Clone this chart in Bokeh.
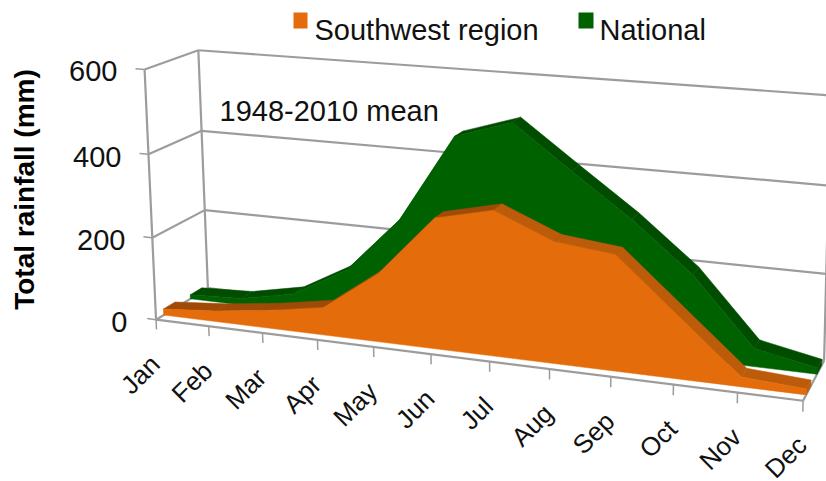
import numpy as np
from bokeh.plotting import figure
from bokeh.models import Range1d
from bokeh.core.properties import value
from bokeh.embed import file_html
from bokeh.resources import INLINE

months = ["Jan", "Feb", "Mar", "Apr", "May", "Jun", "Jul", "Aug", "Sep", "Oct", "Nov", "Dec"]
southwest = [15, 26, 43, 66, 162, 305, 336, 279, 264, 143, 22, 13]
national = [10, 16, 43, 116, 253, 462, 505, 405, 307, 195, 42, 14]
y_ticks = [0, 200, 400, 600]

FONT = value("Liberation Sans")
GRID = "#9c9c9c"

# Camera: fitted from the box corners of the 3-D chart (month, depth, mm) -> page pixel
camera_fit = [
    ((0, 0, 0), (156, 319)), ((0, 0, 200), (152, 237)), ((0, 0, 400), (147, 154)), ((0, 0, 600), (144, 70)),
    ((3, 0, 0), (317, 339)), ((6, 0, 0), (489, 361)), ((9, 0, 0), (673, 384)), ((11, 0, 0), (803, 400)),
    ((0, 1, 0), (207, 288)), ((0, 1, 200), (204, 210)), ((0, 1, 400), (202, 130)), ((0, 1, 600), (198, 49)),
    ((11, 1, 0), (823, 361)), ((11, 1, 200), (826, 273)), ((11, 1, 400), (828, 185)), ((11, 1, 600), (830, 95)),
]
A, b = [], []
for (t, d, v), (x, y) in camera_fit:
    A.append([t, d, v, 1, 0, 0, 0, 0, -x * t, -x * d, -x * v])
    A.append([0, 0, 0, 0, t, d, v, 1, -y * t, -y * d, -y * v])
    b += [x, y]
h = np.linalg.lstsq(np.array(A, float), np.array(b, float), rcond=None)[0]


def proj(t, d, v):
    w = h[8] * t + h[9] * d + h[10] * v + 1
    return ((h[0] * t + h[1] * d + h[2] * v + h[3]) / w,
            (h[4] * t + h[5] * d + h[6] * v + h[7]) / w)


p = figure(x_range=Range1d(0, 826), y_range=Range1d(481, 0), width=826, height=481,
           toolbar_location=None, output_backend="svg", min_border=0,
           x_axis_type=None, y_axis_type=None)
p.outline_line_color = None
p.background_fill_color = "white"


def seg(a, b, width=2.2, color=GRID):
    xa, ya = proj(*a)
    xb, yb = proj(*b)
    p.line([xa, xb], [ya, yb], line_color=color, line_width=width)


# walls and floor
for v in y_ticks:
    seg((0, 0, v), (0, 1, v))
    seg((0, 1, v), (11, 1, v))
seg((0, 0, 0), (0, 0, 600))
seg((0, 1, 0), (0, 1, 600))
seg((11, 1, 0), (11, 1, 600))
seg((11, 0, 0), (11, 1, 0))


def area(vals, d0, d1, face, top_flat, top_down):
    n = len(vals)
    ts = np.arange(n)
    for i in range(n - 1):
        x1, y1 = proj(i, d0, vals[i])
        x2, y2 = proj(i + 1, d0, vals[i + 1])
        x3, y3 = proj(i + 1, d1, vals[i + 1])
        x4, y4 = proj(i, d1, vals[i])
        col = top_down if vals[i + 1] < vals[i] else top_flat
        p.patch([x1, x2, x3, x4], [y1, y2, y3, y4], fill_color=col, line_color=col, line_width=0.5)
    # end cap at December
    cx, cy = zip(proj(n - 1, d0, vals[-1]), proj(n - 1, d1, vals[-1]), proj(n - 1, d1, 0), proj(n - 1, d0, 0))
    p.patch(list(cx), list(cy), fill_color=top_down, line_color=top_down, line_width=0.5)
    # front face
    tx, ty = proj(ts, d0, np.array(vals, float))
    bx, by = proj(np.array([n - 1, 0]), d0, 0.0)
    p.patch(list(tx) + list(bx), list(ty) + list(by), fill_color=face, line_color=face, line_width=0.5)


area(national, 0.65, 0.88, "#006100", "#004d00", "#004d00")
area(southwest, 0.14, 0.36, "#e46c0a", "#a04a08", "#bc5c0a")

# front axis and ticks
seg((0, 0, 0), (11, 0, 0))
for i in range(12):
    seg((i, 0, 0), (i, 0, -24), width=1.5)
for v in y_ticks:
    seg((0, 0, v), (-0.17, 0, v), width=1.5)

# tick labels
mx, my = proj(np.arange(12), 0.0, 0.0)
p.text(list(mx), list(my), text=months, text_font=FONT, text_font_size="26px", text_color="#111111",
       angle=45, angle_units="deg", text_align="right", text_baseline="middle", x_offset=-1, y_offset=40)
y_label_x = [127, 125, 121, 117]
y_label_y = [321, 239, 156, 70]
p.text(y_label_x, y_label_y, text=[str(v) for v in y_ticks], text_font=FONT, text_font_size="29px",
       text_color="#111111", text_align="right", text_baseline="middle")

# axis title, note, legend
p.text([24], [189], text=["Total rainfall (mm)"], text_font=FONT, text_font_size="28px", text_font_style="bold",
       text_color="#000000", angle=90, angle_units="deg", text_align="center", text_baseline="alphabetic")
p.text([219], [110], text=["1948-2010 mean"], text_font=FONT, text_font_size="29px", text_color="#111111",
       text_align="left", text_baseline="alphabetic")
p.quad(left=[293, 578], right=[307, 593], top=[12, 12], bottom=[28, 28],
       fill_color=["#e46c0a", "#006100"], line_color=None)
p.text([314, 599], [29, 29], text=["Southwest region", "National"], text_font=FONT, text_font_size="29px",
       text_color="#111111", text_align="left", text_baseline="alphabetic")

open("out.html", "w").write(file_html(p, INLINE))
